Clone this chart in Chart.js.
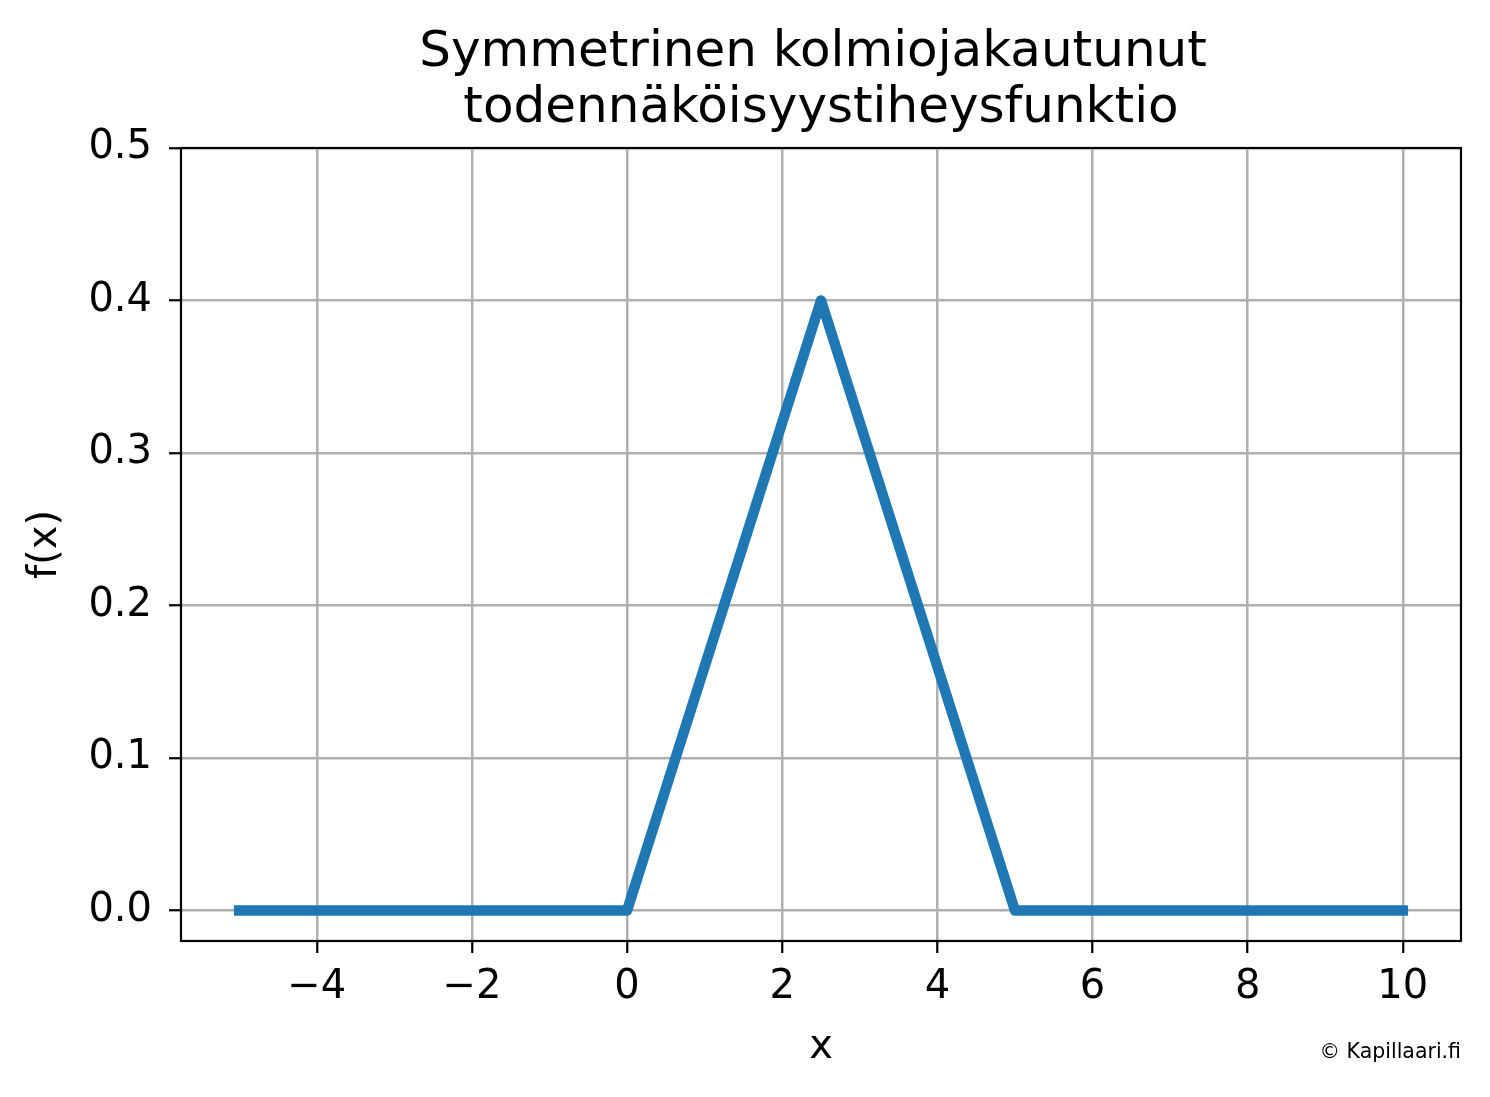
<!DOCTYPE html>
<html>
<head>
<meta charset="utf-8">
<script src="https://cdn.jsdelivr.net/npm/chart.js@4"></script>
<style>
  html, body { margin: 0; padding: 0; background: #fff; }
  canvas { display: block; }
</style>
</head>
<body>
<canvas id="density" width="1490" height="1097"></canvas>
<script>
// triangular pdf corner points
const xValues = [-5, 0, 2.5, 5, 10];
const yValues = [0, 0, 0.4, 0, 0];
const xTicks = [-4, -2, 0, 2, 4, 6, 8, 10];
const yTicks = [0.0, 0.1, 0.2, 0.3, 0.4, 0.5];
const titleLines = ['Symmetrinen kolmiojakautunut ', 'todennäköisyystiheysfunktio'];

const FONT = "'DejaVu Sans', sans-serif";

const frameAndCredit = {
  id: 'frameAndCredit',
  afterDatasetsDraw(chart) {
    const { ctx, chartArea: a } = chart;
    ctx.save();
    ctx.strokeStyle = '#000';
    ctx.lineWidth = 2.2;
    ctx.strokeRect(a.left, a.top, a.right - a.left, a.bottom - a.top);
    ctx.restore();
  },
  afterDraw(chart) {
    const { ctx, chartArea: a } = chart;
    ctx.save();
    ctx.fillStyle = '#000';
    ctx.font = '20.5px ' + FONT;
    ctx.textAlign = 'right';
    ctx.textBaseline = 'alphabetic';
    ctx.fillText('© Kapillaari.fi', a.right, 1058);
    ctx.restore();
  }
};

const minus = v => String(v).replace('-', '\u2212');

new Chart(document.getElementById('density'), {
  type: 'line',
  data: {
    datasets: [{
      data: xValues.map((x, i) => ({ x: x, y: yValues[i] })),
      borderColor: '#1f77b4',
      borderWidth: 10.5,
      borderCapStyle: 'square',
      borderJoinStyle: 'round',
      pointRadius: 0,
      tension: 0
    }]
  },
  options: {
    responsive: false,
    animation: false,
    layout: { padding: { left: 0, right: 29, top: 0, bottom: 0 } },
    plugins: {
      legend: { display: false },
      tooltip: { enabled: false },
      title: {
        display: true,
        fullSize: false,
        text: titleLines,
        color: '#000',
        font: { family: FONT, size: 50, weight: 'normal', lineHeight: 1.12 },
        padding: { top: 25, bottom: 11 }
      }
    },
    scales: {
      x: {
        type: 'linear',
        min: -5.75,
        max: 10.75,
        afterFit: s => { s.height = 156; },
        afterBuildTicks: s => { s.ticks = xTicks.map(v => ({ value: v })); },
        ticks: {
          color: '#000',
          font: { family: FONT, size: 40 },
          padding: 11,
          maxRotation: 0,
          callback: v => minus(v)
        },
        grid: {
          color: '#b0b0b0',
          lineWidth: 2.5,
          tickColor: '#000',
          tickLength: 12,
          tickWidth: 2.2
        },
        border: { display: false },
        title: {
          display: true,
          text: 'x',
          color: '#000',
          font: { family: FONT, size: 40 },
          padding: { top: 4, bottom: 25 }
        }
      },
      y: {
        type: 'linear',
        min: -0.02,
        max: 0.5,
        afterFit: s => { s.width = 181; },
        afterBuildTicks: s => { s.ticks = yTicks.map(v => ({ value: v })); },
        ticks: {
          color: '#000',
          font: { family: FONT, size: 40 },
          padding: 17,
          callback: v => v.toFixed(1)
        },
        grid: {
          color: '#b0b0b0',
          lineWidth: 2.5,
          tickColor: '#000',
          tickLength: 12,
          tickWidth: 2.2
        },
        border: { display: false },
        title: {
          display: true,
          text: 'f(x)',
          color: '#000',
          font: { family: FONT, size: 40 },
          padding: { top: 22, bottom: 10 }
        }
      }
    }
  },
  plugins: [frameAndCredit]
});
</script>
</body>
</html>
